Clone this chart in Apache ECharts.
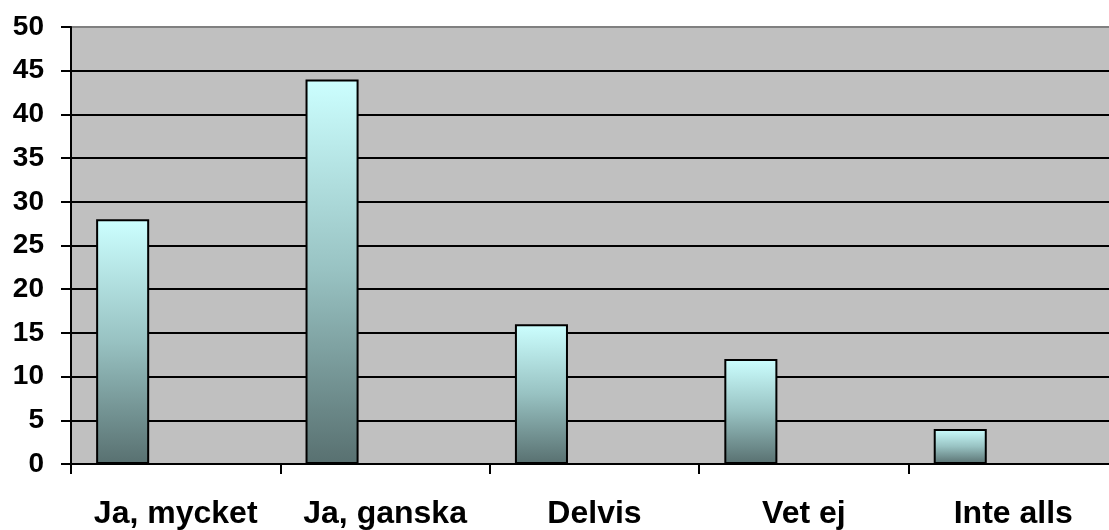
<!DOCTYPE html>
<html>
<head>
<meta charset="utf-8">
<title>Ja, mycket – Inte alls</title>
<script src="https://cdn.jsdelivr.net/npm/echarts@6/dist/echarts.min.js"></script>
<style>
  html, body { margin: 0; padding: 0; background: #ffffff; overflow: hidden; }
  /* the plot area runs a little past the right edge of the window */
  #chart { width: 1118px; height: 530px; }
</style>
</head>
<body>
<div id="chart"></div>
<script>
// Answer categories and their counts
const categories = ['Ja, mycket', 'Ja, ganska', 'Delvis', 'Vet ej', 'Inte alls'];
const answers = [28, 44, 16, 12, 4];
// Two unused series slots keep the bar in the left third of each category
const emptySlotA = [null, null, null, null, null];
const emptySlotB = [null, null, null, null, null];
// Value axis range
const yMin = 0;
const yMax = 50;
const yStep = 5;

const chart = echarts.init(document.getElementById('chart'), null, { renderer: 'canvas' });

const barFill = new echarts.graphic.LinearGradient(0, 0, 0, 1, [
  { offset: 0, color: '#CCFFFF' },
  { offset: 0.5, color: '#98C2C2' },
  { offset: 1, color: '#587070' }
]);

const fontFamily = '"Liberation Sans", Arial, sans-serif';

chart.setOption({
  animation: false,
  grid: {
    left: 71,
    top: 27,
    bottom: 64,
    right: 0,
    show: true,
    backgroundColor: '#C0C0C0',
    borderColor: '#808080',
    borderWidth: 2
  },
  xAxis: {
    type: 'category',
    data: categories,
    boundaryGap: true,
    axisLine: { show: true, lineStyle: { color: '#000', width: 2 } },
    axisTick: { show: true, alignWithLabel: false, length: 10, inside: false, lineStyle: { color: '#000', width: 2 } },
    axisLabel: {
      interval: 0,
      margin: 34,
      color: '#000',
      fontFamily: fontFamily,
      fontWeight: 'bold',
      fontSize: 32
    },
    splitLine: { show: false }
  },
  yAxis: {
    type: 'value',
    min: yMin,
    max: yMax,
    interval: yStep,
    axisLine: { show: true, lineStyle: { color: '#000', width: 2 } },
    axisTick: { show: true, length: 10, inside: false, lineStyle: { color: '#000', width: 2 } },
    axisLabel: {
      margin: 27,
      color: '#000',
      fontFamily: fontFamily,
      fontWeight: 'bold',
      fontSize: 28
    },
    splitLine: {
      show: true,
      showMinLine: false,
      showMaxLine: false,
      lineStyle: { color: '#000', width: 2 }
    }
  },
  series: [
    {
      type: 'bar',
      data: answers,
      barGap: '0%',
      barCategoryGap: '24%',
      itemStyle: { color: barFill, borderColor: '#000', borderWidth: 2 }
    },
    {
      type: 'bar',
      data: emptySlotA,
      barGap: '0%',
      barCategoryGap: '24%',
      silent: true
    },
    {
      type: 'bar',
      data: emptySlotB,
      barGap: '0%',
      barCategoryGap: '24%',
      silent: true
    }
  ]
});
</script>
</body>
</html>
